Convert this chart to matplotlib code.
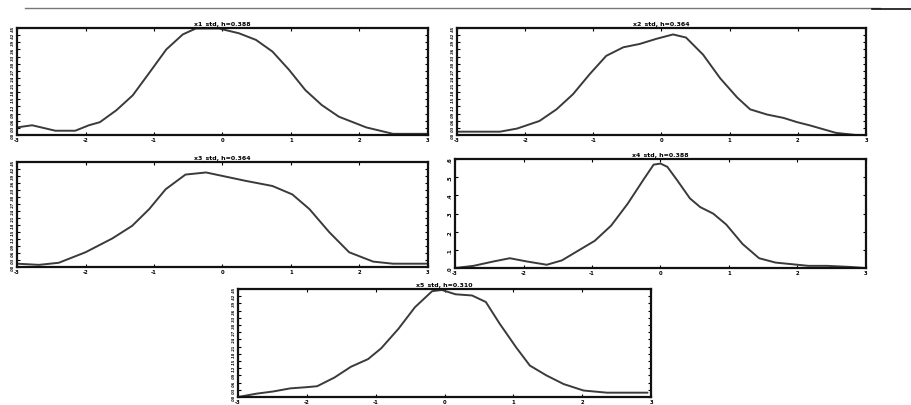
import numpy as np
import matplotlib
matplotlib.use('Agg')
import matplotlib.pyplot as plt
from matplotlib.lines import Line2D

# x positions and density values
x1 = [-3.0, -2.78, -2.44, -2.15, -1.95, -1.79, -1.55, -1.31, -1.07, -0.82, -0.58, -0.39, -0.05, 0.24, 0.49, 0.73, 0.97, 1.21, 1.45, 1.70, 2.10, 2.49, 3.0]
y1 = [0.032, 0.041, 0.018, 0.018, 0.041, 0.054, 0.104, 0.167, 0.261, 0.36, 0.423, 0.448, 0.448, 0.428, 0.40, 0.351, 0.275, 0.189, 0.126, 0.077, 0.032, 0.005, 0.005]

x2 = [-2.98, -2.37, -2.12, -1.79, -1.54, -1.30, -1.05, -0.81, -0.56, -0.32, -0.07, 0.17, 0.36, 0.61, 0.86, 1.11, 1.30, 1.55, 1.79, 1.99, 2.17, 2.56, 2.85]
y2 = [0.014, 0.014, 0.027, 0.059, 0.108, 0.171, 0.257, 0.333, 0.369, 0.383, 0.405, 0.423, 0.41, 0.338, 0.239, 0.158, 0.108, 0.086, 0.072, 0.054, 0.041, 0.009, 0.0]

x3 = [-3.0, -2.68, -2.39, -2.0, -1.61, -1.32, -1.07, -0.83, -0.54, -0.24, 0.05, 0.34, 0.73, 1.02, 1.27, 1.56, 1.85, 2.2, 2.49, 2.98]
y3 = [0.014, 0.009, 0.018, 0.063, 0.122, 0.176, 0.248, 0.333, 0.396, 0.405, 0.387, 0.369, 0.347, 0.311, 0.248, 0.149, 0.063, 0.023, 0.014, 0.014]

x4 = [-3.0, -2.73, -2.44, -2.2, -1.95, -1.66, -1.44, -1.2, -0.96, -0.72, -0.48, -0.24, -0.10, 0.0, 0.10, 0.24, 0.43, 0.58, 0.77, 0.96, 1.20, 1.44, 1.68, 2.16, 2.43, 2.77, 2.99]
y4 = [0.0, 0.012, 0.036, 0.054, 0.036, 0.018, 0.042, 0.096, 0.15, 0.234, 0.354, 0.492, 0.57, 0.576, 0.558, 0.486, 0.384, 0.336, 0.30, 0.24, 0.132, 0.054, 0.03, 0.012, 0.012, 0.006, 0.0]

x5 = [-3.0, -2.73, -2.49, -2.24, -2.0, -1.85, -1.6, -1.36, -1.11, -0.92, -0.67, -0.43, -0.18, -0.04, 0.16, 0.40, 0.60, 0.80, 1.04, 1.24, 1.48, 1.73, 2.02, 2.36, 2.66, 2.95]
y5 = [0.0, 0.014, 0.023, 0.036, 0.041, 0.045, 0.081, 0.126, 0.158, 0.203, 0.284, 0.374, 0.441, 0.446, 0.428, 0.423, 0.396, 0.306, 0.207, 0.131, 0.09, 0.054, 0.027, 0.018, 0.018, 0.018]

titles = ['x1_std, h=0.388', 'x2_std, h=0.364', 'x3_std, h=0.364', 'x4_std, h=0.388', 'x5_std, h=0.310']
xticks = [-3, -2, -1, 0, 1, 2, 3]
yticks_main = np.arange(0, 0.451, 0.03)
yticks_x4 = np.arange(0, 0.61, 0.1)

fig = plt.figure(figsize=(9.11, 4.06), dpi=100)

# panel rectangles [left, bottom, width, height]
rects = [
    [0.0187, 0.665, 0.451, 0.2635],
    [0.5016, 0.665, 0.449, 0.2635],
    [0.0187, 0.340, 0.451, 0.2586],
    [0.4995, 0.3374, 0.451, 0.268],
    [0.2613, 0.0197, 0.4533, 0.266],
]
data = [(x1, y1), (x2, y2), (x3, y3), (x4, y4), (x5, y5)]

for i, (rect, (xs, ys)) in enumerate(zip(rects, data)):
    ax = fig.add_axes(rect)
    ax.plot(xs, ys, color='#3a3a3a', lw=1.4, solid_joinstyle='round', solid_capstyle='round')
    ax.set_xlim(-3, 3)
    if i == 3:
        ax.set_ylim(0, 0.6)
        ax.set_yticks(yticks_x4)
        ax.set_yticklabels([f'{v:.1f}'.lstrip('0') or '0' for v in yticks_x4])
        ysize = 3.8
    else:
        ax.set_ylim(0, 0.45)
        ax.set_yticks(yticks_main)
        ax.set_yticklabels([f'{v:.2f}'.lstrip('0') for v in yticks_main])
        ysize = 2.5
    ax.set_xticks(xticks)
    ax.set_xticklabels([str(t) for t in xticks])
    ax.tick_params(direction='in', length=2, width=0.8, pad=1.5, top=True, right=True)
    ax.tick_params(axis='x', labelsize=3.8)
    ax.tick_params(axis='y', labelsize=ysize)
    for lab in ax.get_yticklabels():
        lab.set_rotation(90)
        lab.set_va('center')
        lab.set_fontweight('bold')
    for lab in ax.get_xticklabels():
        lab.set_fontweight('bold')
    for s in ax.spines.values():
        s.set_linewidth(1.6)
        s.set_color('#111111')
    ax.set_title(titles[i], fontsize=4.5, fontweight='bold', pad=3)

# horizontal rules at top
fig.add_artist(Line2D([25 / 911, 880 / 911], [1 - 9 / 406, 1 - 9 / 406], color='#777777', lw=1))
fig.add_artist(Line2D([872 / 911, 1.0], [1 - 10 / 406, 1 - 10 / 406], color='#111111', lw=1.2))

fig.savefig('out.png', dpi=100)
